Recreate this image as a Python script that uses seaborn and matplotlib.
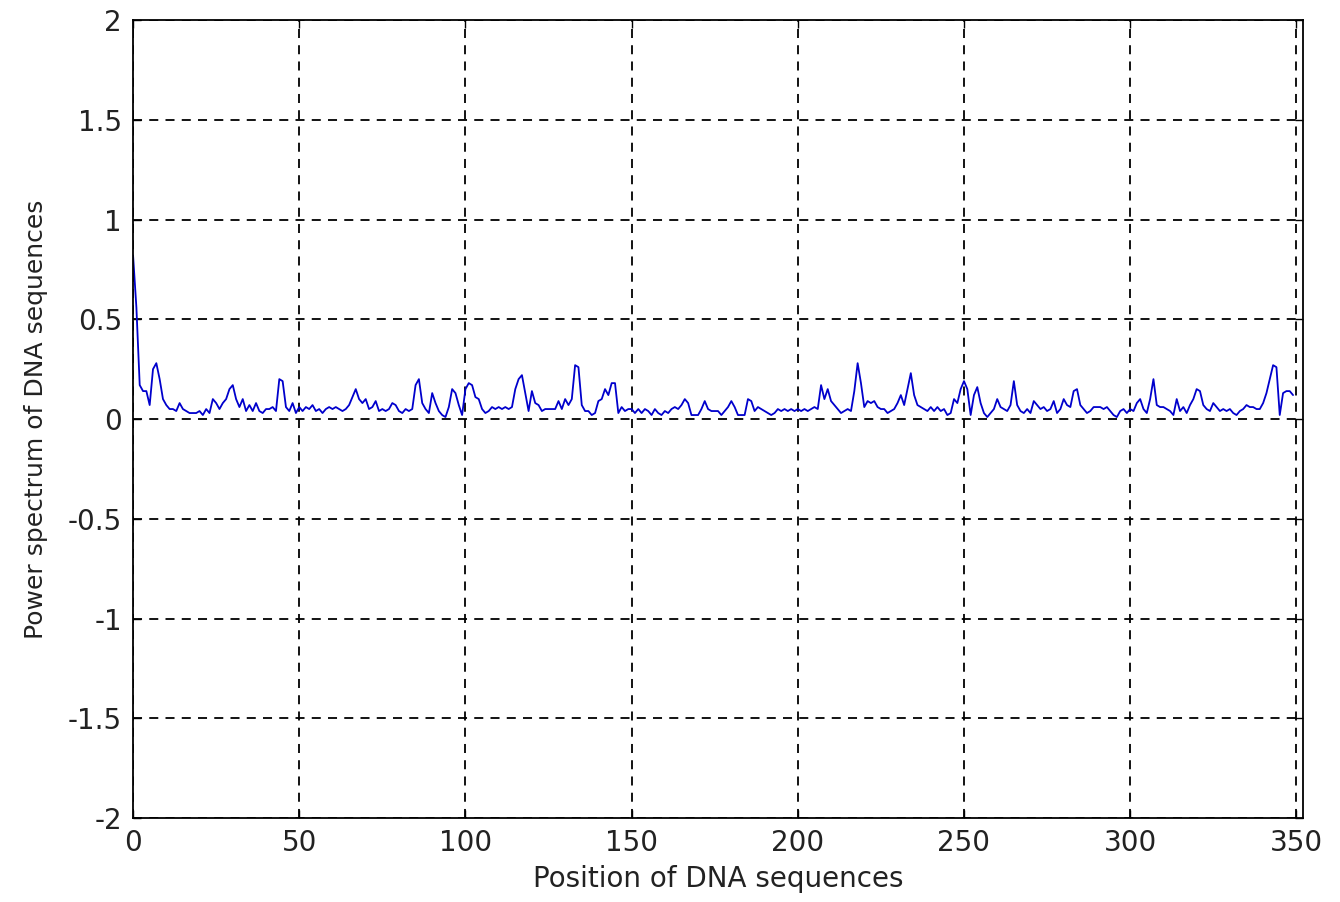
import numpy as np
import pandas as pd
import matplotlib
matplotlib.use("Agg")
import matplotlib.pyplot as plt
import seaborn as sns

# Power spectrum values, positions 0..349
power = [
    0.82, 0.56, 0.17, 0.14, 0.14, 0.07, 0.25, 0.28, 0.20, 0.10,
    0.07, 0.05, 0.05, 0.04, 0.08, 0.05, 0.04, 0.03, 0.03, 0.03,
    0.04, 0.02, 0.05, 0.03, 0.10, 0.08, 0.05, 0.08, 0.10, 0.15,
    0.17, 0.10, 0.06, 0.10, 0.04, 0.07, 0.04, 0.08, 0.04, 0.03,
    0.05, 0.05, 0.06, 0.04, 0.20, 0.19, 0.06, 0.04, 0.08, 0.03,
    0.06, 0.04, 0.06, 0.05, 0.07, 0.04, 0.05, 0.03, 0.05, 0.06,
    0.05, 0.06, 0.05, 0.04, 0.05, 0.07, 0.11, 0.15, 0.10, 0.08,
    0.10, 0.05, 0.06, 0.09, 0.04, 0.05, 0.04, 0.05, 0.08, 0.07,
    0.04, 0.03, 0.05, 0.04, 0.05, 0.17, 0.20, 0.08, 0.05, 0.03,
    0.13, 0.08, 0.04, 0.02, 0.01, 0.06, 0.15, 0.13, 0.07, 0.02,
    0.15, 0.18, 0.17, 0.11, 0.10, 0.05, 0.03, 0.04, 0.06, 0.05,
    0.06, 0.05, 0.06, 0.05, 0.06, 0.15, 0.20, 0.22, 0.13, 0.04,
    0.14, 0.08, 0.07, 0.04, 0.05, 0.05, 0.05, 0.05, 0.09, 0.05,
    0.10, 0.07, 0.10, 0.27, 0.26, 0.07, 0.04, 0.04, 0.02, 0.03,
    0.09, 0.10, 0.15, 0.12, 0.18, 0.18, 0.03, 0.06, 0.04, 0.05,
    0.05, 0.03, 0.05, 0.03, 0.05, 0.04, 0.02, 0.05, 0.03, 0.02,
    0.04, 0.03, 0.05, 0.06, 0.05, 0.07, 0.10, 0.08, 0.02, 0.02,
    0.02, 0.05, 0.09, 0.05, 0.04, 0.04, 0.04, 0.02, 0.04, 0.06,
    0.09, 0.06, 0.02, 0.02, 0.02, 0.10, 0.09, 0.04, 0.06, 0.05,
    0.04, 0.03, 0.02, 0.03, 0.05, 0.04, 0.05, 0.04, 0.05, 0.04,
    0.05, 0.04, 0.05, 0.04, 0.05, 0.06, 0.05, 0.17, 0.10, 0.15,
    0.09, 0.07, 0.05, 0.03, 0.04, 0.05, 0.04, 0.14, 0.28, 0.18,
    0.06, 0.09, 0.08, 0.09, 0.06, 0.05, 0.05, 0.03, 0.04, 0.05,
    0.08, 0.12, 0.07, 0.15, 0.23, 0.12, 0.07, 0.06, 0.05, 0.04,
    0.06, 0.04, 0.06, 0.04, 0.05, 0.02, 0.03, 0.10, 0.08, 0.15,
    0.19, 0.15, 0.02, 0.12, 0.16, 0.08, 0.03, 0.01, 0.03, 0.05,
    0.10, 0.06, 0.05, 0.04, 0.07, 0.19, 0.07, 0.04, 0.03, 0.05,
    0.03, 0.09, 0.07, 0.05, 0.06, 0.04, 0.05, 0.09, 0.03, 0.05,
    0.10, 0.07, 0.06, 0.14, 0.15, 0.07, 0.05, 0.03, 0.04, 0.06,
    0.06, 0.06, 0.05, 0.06, 0.04, 0.02, 0.01, 0.04, 0.05, 0.03,
    0.05, 0.04, 0.08, 0.10, 0.05, 0.03, 0.10, 0.20, 0.07, 0.06,
    0.06, 0.05, 0.04, 0.02, 0.10, 0.04, 0.06, 0.03, 0.07, 0.10,
    0.15, 0.14, 0.07, 0.05, 0.04, 0.08, 0.06, 0.04, 0.05, 0.04,
    0.05, 0.03, 0.02, 0.04, 0.05, 0.07, 0.06, 0.06, 0.05, 0.05,
    0.08, 0.13, 0.20, 0.27, 0.26, 0.02, 0.13, 0.14, 0.14, 0.12,
]
position = list(range(len(power)))

x_ticks = [0, 50, 100, 150, 200, 250, 300, 350]
y_ticks = [-2, -1.5, -1, -0.5, 0, 0.5, 1, 1.5, 2]
y_tick_labels = ["-2", "-1.5", "-1", "-0.5", "0", "0.5", "1", "1.5", "2"]

df = pd.DataFrame({"position": position, "power": power})

sns.set_style("white")
plt.rcParams["font.family"] = ["DejaVu Sans"]

fig = plt.figure(figsize=(13.4, 9.02), dpi=100)
ax = fig.add_axes([0.0993, 0.0931, 0.8731, 0.8847])

sns.lineplot(data=df, x="position", y="power", color="#0000cc", linewidth=1.3, ax=ax)

ax.set_xlim(0, 352)
ax.set_ylim(-2, 2)
ax.set_xticks(x_ticks)
ax.set_yticks(y_ticks)
ax.set_yticklabels(y_tick_labels)
ax.tick_params(direction="in", length=6, width=1, labelsize=20, colors="black",
               labelcolor="#222222", top=True, right=True, bottom=True, left=True)
ax.tick_params(axis="x", pad=8)
ax.tick_params(axis="y", pad=8)
ax.grid(True, color="black", linestyle=(0, (5, 4)), linewidth=1.3)
for s in ax.spines.values():
    s.set_color("black")
    s.set_linewidth(1.3)
    s.set_visible(True)

ax.set_xlabel("Position of DNA sequences", fontsize=20, labelpad=6, color="#222222")
ax.set_ylabel("Power spectrum of DNA sequences", fontsize=18, labelpad=14, color="#222222")

fig.savefig("out.png", dpi=100, facecolor="white")
